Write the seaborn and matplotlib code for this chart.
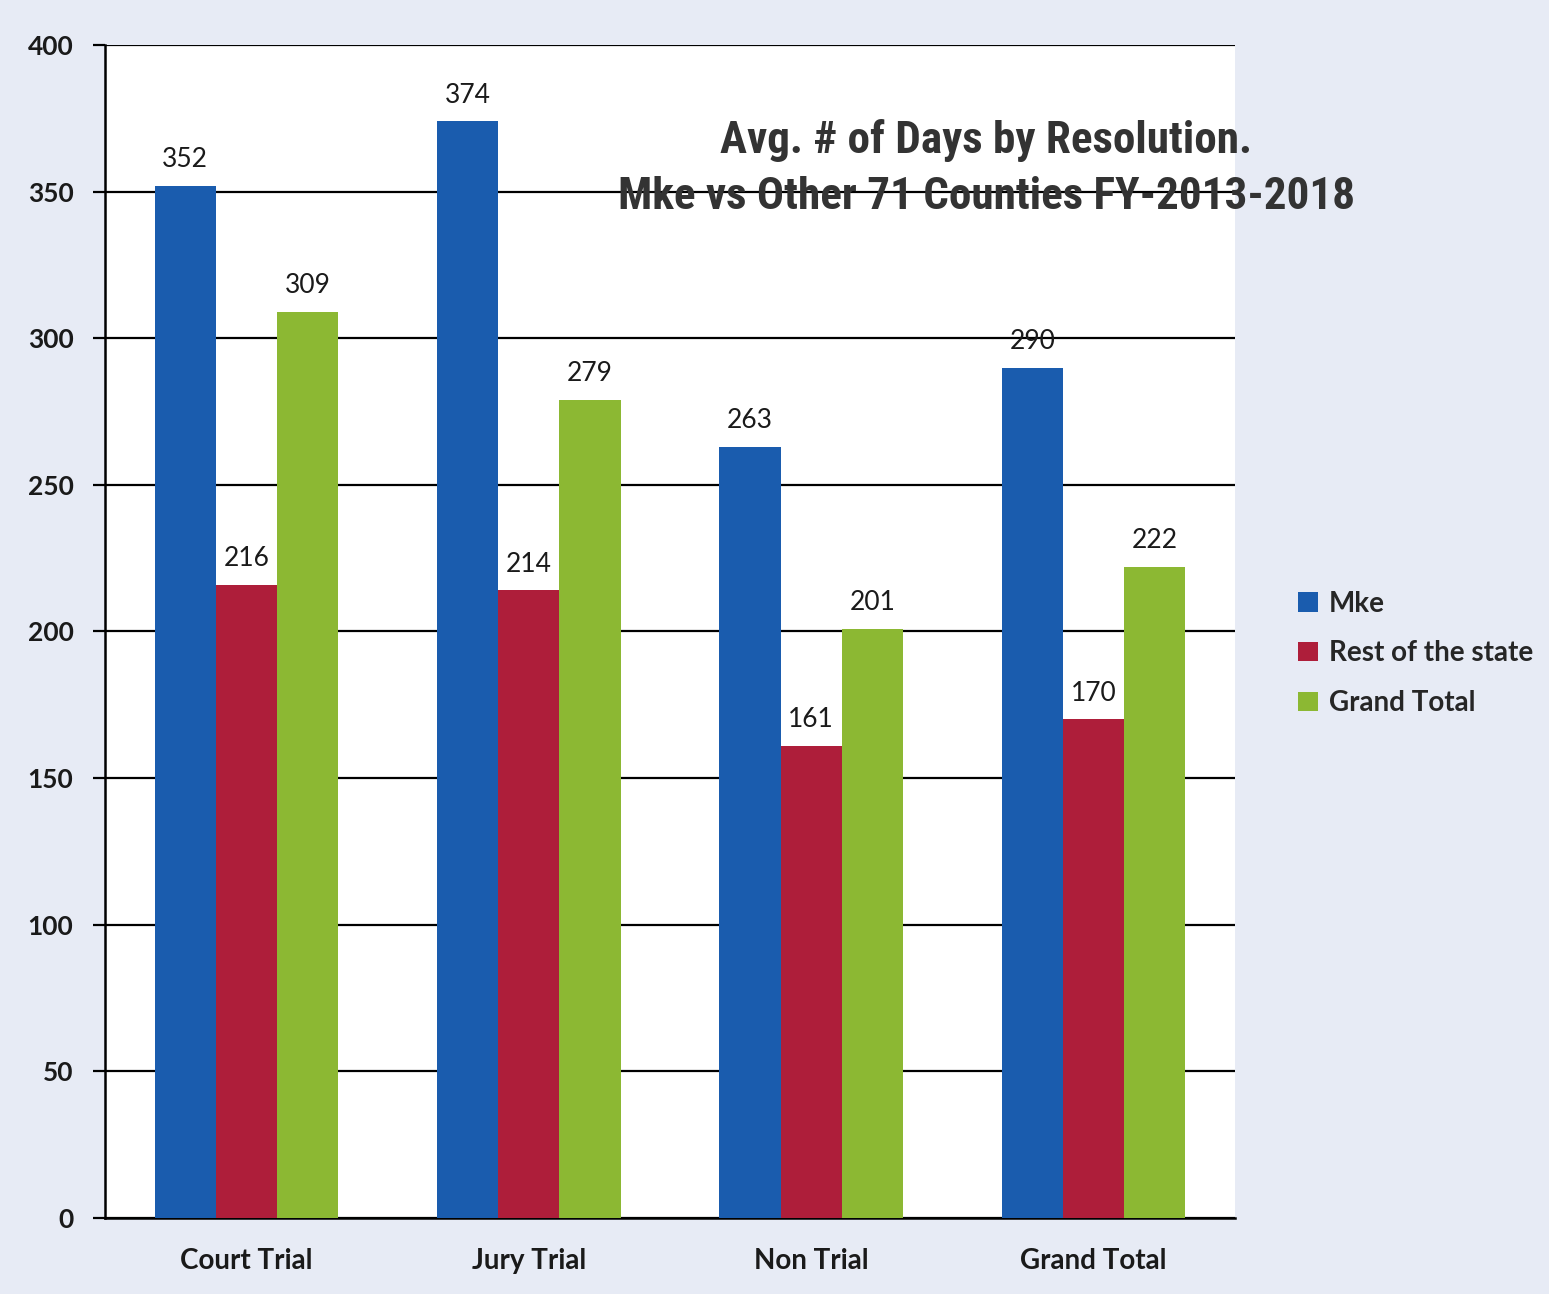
import numpy as np
import pandas as pd
import seaborn as sns
import matplotlib.pyplot as plt

categories = ["Court Trial", "Jury Trial", "Non Trial", "Grand Total"]
series = ["Mke", "Rest of the state", "Grand Total"]
mke = [352, 374, 263, 290]
rest = [216, 214, 161, 170]
grand = [309, 279, 201, 222]
colors = ["#1a5cae", "#ae1e3a", "#8cb833"]

df = pd.DataFrame({
    "Resolution": categories * 3,
    "Series": [s for s in series for _ in categories],
    "Days": mke + rest + grand,
})

sns.set_style("white")
plt.rcParams['font.family'] = ['Lato', 'DejaVu Sans']

fig = plt.figure(figsize=(15.49, 12.94), dpi=100, facecolor="#e7ebf5")
ax = fig.add_axes([0.068, 0.059, 0.729, 0.906])
ax.set_facecolor("white")

sns.barplot(data=df, x="Resolution", y="Days", hue="Series", palette=colors,
            width=0.65, saturation=1, linewidth=0, ax=ax, zorder=3, legend=True)

for c in ax.containers:
    ax.bar_label(c, padding=10, fontsize=19, color="#1a1a1a")

ax.set_ylim(0, 400)
ax.set_xlim(-0.5, 3.5)
ax.set_yticks(np.arange(0, 401, 50))
ax.yaxis.grid(True, color="black", linewidth=1.6, zorder=0)
ax.set_axisbelow(True)
ax.tick_params(axis="y", direction="out", length=9, width=1.6, color="black",
               labelsize=19, pad=14, left=True)
ax.tick_params(axis="x", which="major", length=0, labelsize=20, pad=22)
ax.set_xticks(np.arange(-0.5, 3.6, 1), minor=True)
ax.tick_params(axis="x", which="minor", direction="out", length=9, width=1.6,
               color="black")
for lab in ax.get_xticklabels() + ax.get_yticklabels():
    lab.set_color("#1a1a1a")
    lab.set_fontweight("bold")
ax.set_xlabel("")
ax.set_ylabel("")
for side in ["top", "right"]:
    ax.spines[side].set_visible(False)
ax.spines["left"].set_linewidth(1.8)
ax.spines["bottom"].set_linewidth(1.8)
ax.spines["left"].set_color("black")
ax.spines["bottom"].set_color("black")

# chart title sits inside the plot area, top right
ax.text(0.78, 0.895, "Avg. # of Days by Resolution.\nMke vs Other 71 Counties FY-2013-2018",
        transform=ax.transAxes, ha="center", va="center", fontsize=32.5,
        fontweight="bold", fontstretch="condensed", color="#333333", linespacing=1.42,
        family=["Liberation Sans Narrow", "Roboto Condensed", "DejaVu Sans"], zorder=5)

handles, labels = ax.get_legend_handles_labels()
ax.get_legend().remove()
fig.legend(handles, labels, loc="center left", bbox_to_anchor=(0.822, 0.495),
           frameon=False, prop={"size": 20, "weight": "bold"}, handlelength=0.7,
           handleheight=0.7, handletextpad=0.4, labelspacing=0.85)

fig.savefig("out.png", dpi=100, facecolor=fig.get_facecolor())
